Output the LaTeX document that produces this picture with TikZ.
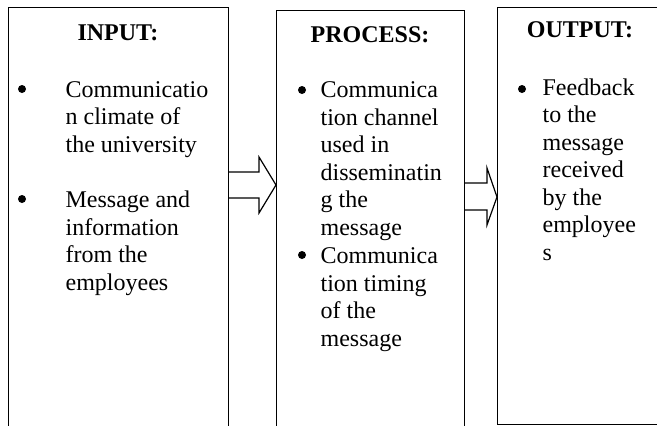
\documentclass[tikz,border=0pt]{standalone}
\usepackage{fontspec}
\setmainfont{Liberation Serif}
\usepackage{tikz}
\usetikzlibrary{calc}

\begin{document}
\begin{tikzpicture}[x=1pt, y=-1pt, line width=1.2pt,
        box/.style={draw, rectangle, anchor=north west, inner sep=0pt},
        heading/.style={anchor=base, inner sep=0pt, font=\fontsize{24}{27.5}\selectfont\bfseries},
        itemtext/.style={anchor=base west, align=left, inner sep=0pt, font=\fontsize{24}{27.5}\selectfont},
        dot/.style={circle, fill, inner sep=0pt, minimum size=8pt},
        fat/.style={line join=miter}]
        \useasboundingbox (0,0) rectangle (657,426);
        \clip (0,0) rectangle (657,426);

        % Draw the three boxes
        \node[box, minimum width=220pt, minimum height=450pt] (input) at (8,7) {};
        \node[box, minimum width=188pt, minimum height=450pt] (process) at (276,10) {};
        \node[box, minimum width=165pt, minimum height=417pt] (output) at (497,7) {};

        % Headings
        \node[heading] (inhead) at (118,40) {INPUT:};
        \node[heading] (prhead) at (370,42) {PROCESS:};
        \node[heading] (outhead) at (580,37) {OUTPUT:};

        % Items of the input box (placed at the baseline of their last line)
        \node[itemtext] (in1) at (65,152) {Communicatio\\n climate of\\the university};
        \node[dot] (in1dot) at (22,89) {};
        \node[itemtext] (in2) at (65,290) {Message and\\information\\from the\\employees};
        \node[dot] (in2dot) at (22,199) {};

        % Items of the process box
        \node[itemtext] (pr1) at (320,235) {Communica\\tion channel\\used in\\disseminatin\\g the\\message};
        \node[dot] (pr1dot) at (302,90) {};
        \node[itemtext] (pr2) at (320,346) {Communica\\tion timing\\of the\\message};
        \node[dot] (pr2dot) at (302,255) {};

        % Item of the output box
        \node[itemtext] (out1) at (542,260) {Feedback\\to the\\message\\received\\by the\\employee\\s};
        \node[dot] (out1dot) at (522,89) {};

        % Draw the block arrows between the boxes
        \draw[fat] (input.east |- 0,172) -- (259,172) -- (259,157) -- (process.west |- 0,185)
            -- (259,213) -- (259,198) -- (input.east |- 0,198);
        \draw[fat] (process.east |- 0,183) -- (487,183) -- (487,168) -- (output.west |- 0,197)
            -- (487,225) -- (487,210) -- (process.east |- 0,210);
    \end{tikzpicture}
\end{document}
